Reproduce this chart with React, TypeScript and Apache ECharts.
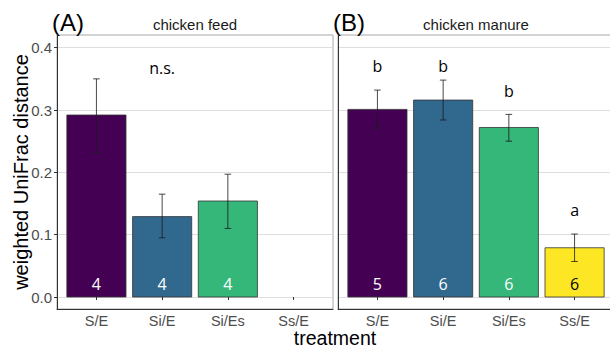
import React, { useEffect, useRef } from "react";
import * as echarts from "echarts";

const categories = ["S/E", "Si/E", "Si/Es", "Ss/E"];
const yTicks = [0, 0.1, 0.2, 0.3, 0.4];
const barColors = ["#440154", "#31688E", "#35B779", "#FDE725"];
const countColors = ["#ffffff", "#ffffff", "#ffffff", "#000000"];

// chicken feed (A)
const feedMean = [0.292, 0.129, 0.154, null];
const feedLow = [0.232, 0.095, 0.11, null];
const feedHigh = [0.35, 0.165, 0.197, null];
const feedN = ["4", "4", "4", ""];
const feedLetters = ["", "n.s.", "", ""];
const feedLetterY = [0, 0.368, 0, 0];

// chicken manure (B)
const manureMean = [0.301, 0.316, 0.272, 0.079];
const manureLow = [0.271, 0.284, 0.25, 0.057];
const manureHigh = [0.332, 0.348, 0.293, 0.101];
const manureN = ["5", "6", "6", "6"];
const manureLetters = ["b", "b", "b", "a"];
const manureLetterY = [0.371, 0.371, 0.331, 0.139];

const panelTitles = ["chicken feed", "chicken manure"];
const panelTags = ["(A)", "(B)"];

const PANEL_TOP = 35;
const PANEL_H = 274;
const DATA_TOP = 47.7;
const DATA_H = 249.3;
const PANEL_W = 276;
const PANEL_LEFT = [57, 338];
const LABEL_FONT = "Liberation Sans, Arial, sans-serif";
const TEXT_FONT = "Open Sans, Noto Sans, sans-serif";

function buildPanel(
  p: number,
  mean: (number | null)[],
  low: (number | null)[],
  high: (number | null)[],
  counts: string[],
  letters: string[],
  letterY: number[]
) {
  const frameIdx = p * 2;
  const dataIdx = p * 2 + 1;
  const grids = [
    {
      left: PANEL_LEFT[p],
      top: PANEL_TOP,
      width: PANEL_W,
      height: PANEL_H,
      outerBoundsMode: "none",
      containLabel: false,
      show: true,
      borderColor: "#a8a8a8",
      borderWidth: 1,
      backgroundColor: "transparent",
    },
    {
      left: PANEL_LEFT[p],
      top: DATA_TOP,
      width: PANEL_W,
      height: DATA_H,
      outerBoundsMode: "none",
      containLabel: false,
    },
  ];
  const xAxes = [
    {
      gridIndex: frameIdx,
      type: "value",
      min: 0,
      max: 1,
      axisLine: { show: true, onZero: false, lineStyle: { color: "#333333", width: 1 } },
      axisTick: { show: false },
      axisLabel: { show: false },
      splitLine: { show: false },
    },
    {
      gridIndex: dataIdx,
      type: "value",
      min: 0.4,
      max: 4.6,
      offset: 12,
      axisLine: { show: false },
      axisTick: {
        show: true,
        customValues: [1, 2, 3, 4],
        length: 3,
        lineStyle: { color: "#333333" },
      },
      axisLabel: {
        show: true,
        customValues: [1, 2, 3, 4],
        formatter: (v: number) => categories[Math.round(v) - 1] ?? "",
        color: "#4d4d4d",
        fontSize: 14.5,
        lineHeight: 13,
        fontFamily: LABEL_FONT,
        margin: 5,
      },
      splitLine: { show: false },
    },
  ];
  const yAxes = [
    {
      gridIndex: frameIdx,
      type: "value",
      min: 0,
      max: 1,
      axisLine: { show: true, onZero: false, lineStyle: { color: "#333333", width: 1 } },
      axisTick: { show: false },
      axisLabel: { show: false },
      splitLine: { show: false },
    },
    {
      gridIndex: dataIdx,
      type: "value",
      min: yTicks[0],
      max: yTicks[yTicks.length - 1],
      interval: 0.1,
      axisLine: { show: false },
      axisTick: { show: p === 0, length: 3, lineStyle: { color: "#333333" } },
      axisLabel: {
        show: p === 0,
        color: "#4d4d4d",
        fontSize: 15,
        fontFamily: LABEL_FONT,
        margin: 5,
        formatter: (v: number) => v.toFixed(1),
      },
      splitLine: { show: true, lineStyle: { color: "#dedede", width: 1 } },
    },
  ];

  const barData: number[][] = [];
  const errData: number[][] = [];
  const countData: any[] = [];
  const letterData: any[] = [];
  for (let i = 0; i < categories.length; i++) {
    const m = mean[i];
    if (m !== null && m !== undefined) {
      barData.push([i + 1, m, i]);
      errData.push([i + 1, low[i] as number, high[i] as number]);
      countData.push([i + 1, 0, i]);
    }
    if (letters[i]) letterData.push([i + 1, letterY[i], i]);
  }

  const series = [
    {
      type: "custom",
      xAxisIndex: dataIdx,
      yAxisIndex: dataIdx,
      data: barData,
      clip: false,
      z: 2,
      renderItem: (params: any, api: any) => {
        const x = api.value(0);
        const y = api.value(1);
        const idx = api.value(2);
        const a = api.coord([x - 0.45, y]);
        const b = api.coord([x + 0.45, 0]);
        return {
          type: "rect",
          shape: { x: a[0], y: a[1], width: b[0] - a[0], height: b[1] - a[1] },
          style: { fill: barColors[idx], stroke: "#333333", lineWidth: 0.8 },
        };
      },
    },
    {
      type: "custom",
      xAxisIndex: dataIdx,
      yAxisIndex: dataIdx,
      data: errData,
      clip: false,
      z: 3,
      renderItem: (params: any, api: any) => {
        const x = api.value(0);
        const lo = api.coord([x, api.value(1)]);
        const hi = api.coord([x, api.value(2)]);
        const half = api.size([0.05, 0])[0];
        const ls = { stroke: "#1a1a1a", lineWidth: 0.8 };
        return {
          type: "group",
          children: [
            { type: "line", shape: { x1: lo[0], y1: lo[1], x2: hi[0], y2: hi[1] }, style: ls },
            { type: "line", shape: { x1: lo[0] - half, y1: lo[1], x2: lo[0] + half, y2: lo[1] }, style: ls },
            { type: "line", shape: { x1: hi[0] - half, y1: hi[1], x2: hi[0] + half, y2: hi[1] }, style: ls },
          ],
        };
      },
    },
    {
      type: "custom",
      xAxisIndex: dataIdx,
      yAxisIndex: dataIdx,
      data: countData,
      clip: false,
      z: 4,
      renderItem: (params: any, api: any) => {
        const idx = api.value(2);
        const pt = api.coord([api.value(0), api.value(1)]);
        return {
          type: "text",
          x: pt[0],
          y: pt[1] - 13,
          style: {
            text: counts[idx],
            fill: countColors[idx],
            fontSize: 16,
            fontFamily: TEXT_FONT,
            align: "center",
            verticalAlign: "middle",
          },
        };
      },
    },
    {
      type: "custom",
      xAxisIndex: dataIdx,
      yAxisIndex: dataIdx,
      data: letterData,
      clip: false,
      z: 4,
      renderItem: (params: any, api: any) => {
        const idx = api.value(2);
        const pt = api.coord([api.value(0), api.value(1)]);
        return {
          type: "text",
          x: pt[0],
          y: pt[1],
          style: {
            text: letters[idx],
            fill: "#000000",
            fontSize: 16,
            fontFamily: TEXT_FONT,
            align: "center",
            verticalAlign: "middle",
          },
        };
      },
    },
  ];

  const graphics = [
    {
      type: "text",
      x: PANEL_LEFT[p] + PANEL_W / 2,
      y: 24,
      style: {
        text: panelTitles[p],
        fill: "#1a1a1a",
        fontSize: 15,
        fontFamily: LABEL_FONT,
        align: "center",
        verticalAlign: "middle",
      },
    },
    {
      type: "text",
      x: PANEL_LEFT[p] - 5,
      y: 22,
      style: {
        text: panelTags[p],
        fill: "#000000",
        fontSize: 24,
        fontFamily: LABEL_FONT,
        align: "left",
        verticalAlign: "middle",
      },
    },
  ];

  return { grids, xAxes, yAxes, series, graphics };
}

export default function App() {
  const ref = useRef<HTMLDivElement>(null);
  useEffect(() => {
    if (!ref.current) return;
    const chart = echarts.init(ref.current, undefined, { renderer: "svg" });
    const a = buildPanel(0, feedMean, feedLow, feedHigh, feedN, feedLetters, feedLetterY);
    const b = buildPanel(1, manureMean, manureLow, manureHigh, manureN, manureLetters, manureLetterY);
    chart.setOption({
      animation: false,
      backgroundColor: "#ffffff",
      grid: [...a.grids, ...b.grids],
      xAxis: [...a.xAxes, ...b.xAxes],
      yAxis: [...a.yAxes, ...b.yAxes],
      series: [...a.series, ...b.series],
      graphic: [
        ...a.graphics,
        ...b.graphics,
        {
          type: "text",
          x: 335,
          y: 338,
          style: {
            text: "treatment",
            fill: "#000000",
            fontSize: 19.5,
            lineHeight: 16,
            fontFamily: LABEL_FONT,
            align: "center",
            verticalAlign: "middle",
          },
        },
        {
          type: "text",
          x: 21,
          y: 172,
          rotation: Math.PI / 2,
          style: {
            text: "weighted UniFrac distance",
            fill: "#000000",
            fontSize: 20,
            fontFamily: LABEL_FONT,
            align: "center",
            verticalAlign: "middle",
          },
        },
      ],
    });
    return () => chart.dispose();
  }, []);
  return (
    <div
      ref={ref}
      style={{ position: "fixed", left: 0, top: 0, width: 610, height: 348 }}
    />
  );
}
